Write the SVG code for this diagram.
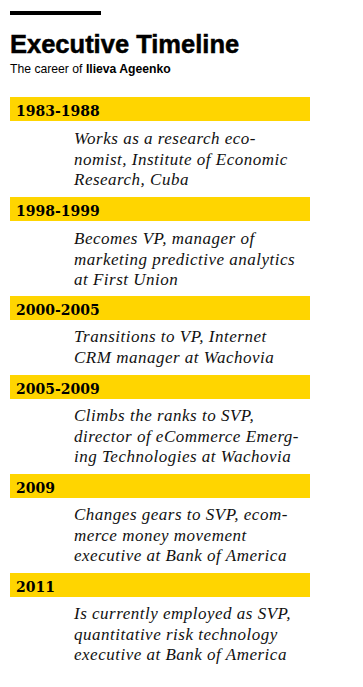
<svg xmlns="http://www.w3.org/2000/svg" width="363" height="687" viewBox="0 0 363 687">
<style>
.bar{fill:#FFD500}
.yr{font-family:"DejaVu Serif",serif;font-weight:bold;font-size:14px;fill:#000}
.d{font-family:"Liberation Serif",serif;font-style:italic;font-size:17px;letter-spacing:0.5px;fill:#111}
.t{font-family:"Liberation Sans",Arial,sans-serif;font-weight:bold;font-size:25.5px;fill:#000;stroke:#000;stroke-width:0.5}
.s{font-family:"Liberation Sans",Arial,sans-serif;font-size:12.2px;fill:#000}
</style>
<rect width="363" height="687" fill="#fff"/>
<g id="header">
<rect x="10" y="11" width="91" height="4" fill="#000"/>
<text class="t" x="10" y="53">Executive Timeline</text>
<text class="s" x="10" y="73">The career of <tspan font-weight="bold">Ilieva Ageenko</tspan></text>
</g>
<g id="e1">
<rect class="bar" x="10" y="97" width="300" height="24"/>
<text class="yr" x="16" y="116">1983-1988</text>
<text class="d" x="74" y="144">Works as a research eco-</text>
<text class="d" x="74" y="164.5">nomist, Institute of Economic</text>
<text class="d" x="74" y="185">Research, Cuba</text>
</g>
<g id="e2">
<rect class="bar" x="10" y="197" width="300" height="24"/>
<text class="yr" x="16" y="216">1998-1999</text>
<text class="d" x="74" y="244">Becomes VP, manager of</text>
<text class="d" x="74" y="264.5">marketing predictive analytics</text>
<text class="d" x="74" y="285">at First Union</text>
</g>
<g id="e3">
<rect class="bar" x="10" y="296" width="300" height="24"/>
<text class="yr" x="16" y="315">2000-2005</text>
<text class="d" x="74" y="342">Transitions to VP, Internet</text>
<text class="d" x="74" y="362.5">CRM manager at Wachovia</text>
</g>
<g id="e4">
<rect class="bar" x="10" y="375" width="300" height="24"/>
<text class="yr" x="16" y="394">2005-2009</text>
<text class="d" x="74" y="421">Climbs the ranks to SVP,</text>
<text class="d" x="74" y="441.5">director of eCommerce Emerg-</text>
<text class="d" x="74" y="462">ing Technologies at Wachovia</text>
</g>
<g id="e5">
<rect class="bar" x="10" y="474" width="300" height="24"/>
<text class="yr" x="16" y="493">2009</text>
<text class="d" x="74" y="520">Changes gears to SVP, ecom-</text>
<text class="d" x="74" y="540.5">merce money movement</text>
<text class="d" x="74" y="561">executive at Bank of America</text>
</g>
<g id="e6">
<rect class="bar" x="10" y="573" width="300" height="24"/>
<text class="yr" x="16" y="592">2011</text>
<text class="d" x="74" y="619">Is currently employed as SVP,</text>
<text class="d" x="74" y="639.5">quantitative risk technology</text>
<text class="d" x="74" y="660">executive at Bank of America</text>
</g>
</svg>
